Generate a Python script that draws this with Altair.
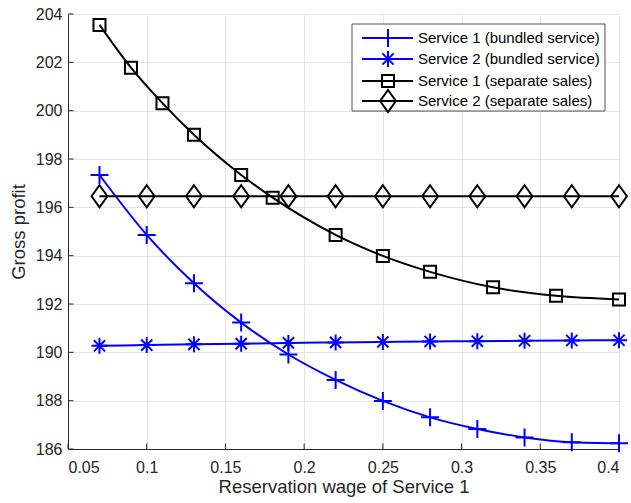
import altair as alt
import pandas as pd

# Reservation wage of Service 1 at the marker positions
x_bundled = [0.07, 0.10, 0.13, 0.16, 0.19, 0.22, 0.25, 0.28, 0.31, 0.34, 0.37, 0.40]
x_separate = [0.07, 0.09, 0.11, 0.13, 0.16, 0.18, 0.22, 0.25, 0.28, 0.32, 0.36, 0.40]

# Gross profit per series
s1_bundled = [197.34, 194.86, 192.86, 191.23, 189.91, 188.86, 187.99, 187.31, 186.83, 186.48, 186.28, 186.24]
s2_bundled = [190.27, 190.30, 190.33, 190.36, 190.39, 190.41, 190.43, 190.45, 190.46, 190.48, 190.49, 190.50]
s1_separate = [203.55, 201.78, 200.31, 199.00, 197.34, 196.40, 194.86, 193.99, 193.33, 192.69, 192.34, 192.19]
s2_bundled_x = x_bundled
s2_separate = [196.46, 196.46, 196.46, 196.46, 196.46, 196.46, 196.46, 196.46, 196.46, 196.46, 196.46, 196.46]

labels = [
    "Service 1 (bundled service)",
    "Service 2 (bundled service)",
    "Service 1 (separate sales)",
    "Service 2 (separate sales)",
]

x_ticks = [0.05, 0.1, 0.15, 0.2, 0.25, 0.3, 0.35, 0.4]
y_ticks = [186, 188, 190, 192, 194, 196, 198, 200, 202, 204]

FONT = "Liberation Sans"
INK = "#262626"
W, H = 551, 435

# marker paths (unit box -1..1)
PLUS = "M-1,0H1M0,-1V1"
STAR = "M-1,0H1M0,-1V1M-0.7,-0.7L0.7,0.7M-0.7,0.7L0.7,-0.7"
SQUARE = "M-1,-1H1V1H-1Z"
DIAMOND = "M0,-1L0.72,0L0,1L-0.72,0Z"

styles = [
    dict(color="#0000ff", shape=PLUS, size=324),
    dict(color="#0000ff", shape=STAR, size=256),
    dict(color="#000000", shape=SQUARE, size=144),
    dict(color="#000000", shape=DIAMOND, size=484),
]

series = [
    (x_bundled, s1_bundled),
    (s2_bundled_x, s2_bundled),
    (x_separate, s1_separate),
    (x_bundled, s2_separate),
]

xs = alt.Scale(domain=[0.05, 0.4], nice=False, zero=False)
ys = alt.Scale(domain=[186, 204], nice=False, zero=False)

x_axis = alt.Axis(
    values=x_ticks, format="~g", grid=True, gridColor="#e4e4e4", gridWidth=1,
    ticks=False, domain=True, domainColor=INK, domainWidth=1,
    labelFont=FONT, labelFontSize=16, labelColor=INK, labelPadding=10,
    title="Reservation wage of Service 1", titleFont=FONT, titleFontSize=18.5,
    titleFontWeight="normal", titleColor=INK, titleX=W / 2, titleY=37,
    titleBaseline="middle", titleAlign="center",
)
y_axis = alt.Axis(
    values=y_ticks, grid=True, gridColor="#e4e4e4", gridWidth=1,
    ticks=False, domain=True, domainColor=INK, domainWidth=1,
    labelFont=FONT, labelFontSize=16, labelColor=INK, labelPadding=6,
    title="Gross profit", titleFont=FONT, titleFontSize=18.5,
    titleFontWeight="normal", titleColor=INK, titleX=-50, titleY=H / 2,
    titleBaseline="middle", titleAlign="center", titleAngle=270,
)

# axes with grid
grid_df = pd.DataFrame({"x": x_ticks[:2], "y": y_ticks[:2]})
axes_layer = alt.Chart(grid_df).mark_point(opacity=0).encode(
    x=alt.X("x:Q", scale=xs, axis=x_axis),
    y=alt.Y("y:Q", scale=ys, axis=y_axis),
)

# inward tick marks
xt = alt.Chart(pd.DataFrame({"x": x_ticks})).mark_rule(color=INK, strokeWidth=1).encode(
    x=alt.X("x:Q", scale=xs), y=alt.value(H), y2=alt.value(H - 5.5)
)
yt = alt.Chart(pd.DataFrame({"y": y_ticks})).mark_rule(color=INK, strokeWidth=1).encode(
    y=alt.Y("y:Q", scale=ys), x=alt.value(0), x2=alt.value(5.5)
)

layers = [axes_layer, xt, yt]
for (xv, yv), lab, st in zip(series, labels, styles):
    df = pd.DataFrame({"x": xv, "y": yv, "series": lab})
    base = alt.Chart(df).encode(x=alt.X("x:Q", scale=xs), y=alt.Y("y:Q", scale=ys))
    layers.append(base.mark_line(color=st["color"], strokeWidth=2, interpolate="monotone"))
    layers.append(base.mark_point(shape=st["shape"], size=st["size"], filled=False,
                                  color=st["color"], strokeWidth=2, opacity=1))

# legend box
leg_df = pd.DataFrame({"label": labels})
layers.append(
    alt.Chart(leg_df.head(1)).mark_rect(fill="white", stroke=INK, strokeWidth=0.8).encode(
        x=alt.value(284), x2=alt.value(537), y=alt.value(10), y2=alt.value(97)
    )
)
rows = [24, 45, 67, 87]
for i, (lab, st) in enumerate(zip(labels, styles)):
    one = pd.DataFrame({"label": [lab]})
    r = rows[i]
    layers.append(alt.Chart(one).mark_rule(color=st["color"], strokeWidth=2).encode(
        x=alt.value(294), x2=alt.value(345), y=alt.value(r)))
    layers.append(alt.Chart(one).mark_point(shape=st["shape"], size=st["size"], filled=False,
                                            color=st["color"], strokeWidth=2, opacity=1).encode(
        x=alt.value(320), y=alt.value(r)))
    layers.append(alt.Chart(one).mark_text(align="left", baseline="middle", font=FONT,
                                           fontSize=15, color="#000000").encode(
        x=alt.value(350), y=alt.value(r), text="label:N"))

chart = alt.layer(*layers).properties(
    width=W, height=H,
    padding={"left": 68, "top": 14, "right": 12, "bottom": 54},
    autosize=alt.AutoSizeParams(type="none"),
    background="white",
).configure_view(stroke=None)

chart.save("out.html", embed_options={"renderer": "svg", "actions": False})
